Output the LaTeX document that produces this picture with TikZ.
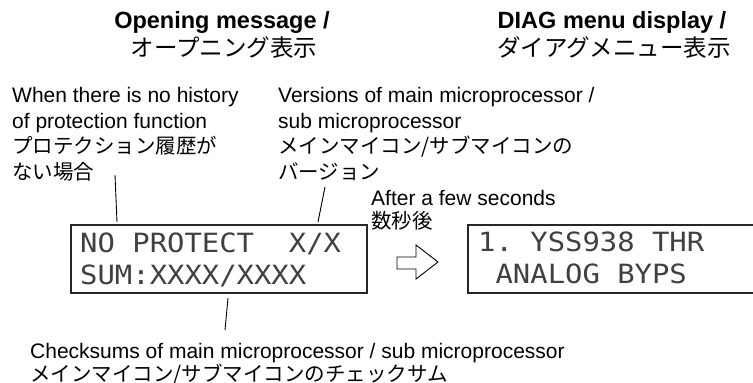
\documentclass[tikz,border=0pt]{standalone}
\usepackage{fontspec}
\setmainfont{Liberation Sans}
\newfontfamily\jpfont{Noto Sans CJK JP}
\newfontfamily\lcdfont{DejaVu Sans Mono}
\usetikzlibrary{positioning}

\newcommand\jatext[1]{{\jpfont\fontsize{20.5}{24}\selectfont #1}}

\tikzset{
  heading/.style={font=\bfseries\fontsize{23.5}{27}\selectfont, anchor=base, inner sep=0pt},
  jpheading/.style={font=\jpfont\fontsize{23.5}{27}\selectfont, anchor=base, inner sep=0pt},
  note/.style={font=\fontsize{21}{25.5}\selectfont, align=left, anchor=north west, inner sep=0pt},
  lcdpanel/.style={draw=black!85, line width=1.2pt, minimum width=296pt, minimum height=68pt, inner sep=0pt},
  lcdline/.style={font=\lcdfont\fontsize{26.5}{30}\selectfont, text=black!75, anchor=base west, inner sep=0pt},
  leader/.style={line width=0.9pt},
}

\begin{document}
\begin{tikzpicture}[x=1pt, y=-1pt]
  \useasboundingbox (0,0) rectangle (753,383);
  \clip (0,0) rectangle (753,383);

  % headings
  \node[heading] (opentitle) at (222,28.5) {Opening message /};
  \node[jpheading] (openjp) at (224,56) {オープニング表示};
  \node[heading] (diagtitle) at (612,28.5) {DIAG menu display /};
  \node[jpheading] (diagjp) at (614,56) {ダイアグメニュー表示};

  % notes above the display
  \node[note] (nohist) at (12,87.5)
    {When there is no history\\of protection function\\\jatext{プロテクション履歴が}\\\jatext{ない場合}};
  \node[note] (versions) at (278,87.5)
    {Versions of main microprocessor /\\sub microprocessor\\\jatext{メインマイコン/サブマイコンの}\\\jatext{バージョン}};
  \node[note, font=\fontsize{21}{23}\selectfont] (after) at (371,190) {After a few seconds\\\jatext{数秒後}};

  % the two LCD panels
  \node[lcdpanel] (openlcd) at (219,259) {};
  \node[lcdpanel] (diaglcd) at (616,259) {};
  \node[lcdline] (openrow1) at (80,252) {\scalebox{1.09}[1]{NO PROTECT~~X/X}};
  \node[lcdline] (openrow2) at (80,284) {\scalebox{1.09}[1]{SUM:XXXX/XXXX}};
  \node[lcdline] (diagrow1) at (478,251) {\scalebox{1.09}[1]{1.~YSS938 THR}};
  \node[lcdline] (diagrow2) at (478,283) {\scalebox{1.09}[1]{~ANALOG BYPS}};

  % hollow arrow between the panels
  \draw[line width=0.9pt] (397,257) -- (416,257) -- (416,245) -- (438,262)
    -- (416,279) -- (416,269) -- (397,269) -- cycle;

  % leader lines
  \coordinate (histtop) at (115,175);
  \coordinate (histend) at (117,222);
  \coordinate (vertop) at (325,187);
  \coordinate (verend) at (318,222);
  \coordinate (sumtop) at (228,298);
  \coordinate (sumend) at (225,330);
  \draw[leader] (histtop) -- (histend);
  \draw[leader] (vertop) -- (verend);
  \draw[leader] (sumtop) -- (sumend);

  % note below the display
  \node[note, font=\fontsize{21}{23}\selectfont] (checksum) at (30,343)
    {Checksums of main microprocessor / sub microprocessor\\\jatext{メインマイコン/サブマイコンのチェックサム}};
\end{tikzpicture}
\end{document}
